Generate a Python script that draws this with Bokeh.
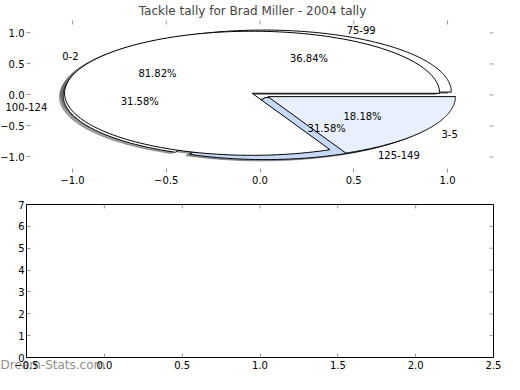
import numpy as np
from bokeh.plotting import figure
from bokeh.models import Range1d, LinearAxis, FixedTicker, ColumnDataSource, BoxAnnotation
from bokeh.layouts import column
from bokeh.core.properties import value
from bokeh.embed import file_html
from bokeh.resources import INLINE

# ---------------- data ----------------
title_text = "Tackle tally for Brad Miller - 2004 tally"

pie1_labels = ["0-2", "3-5"]
pie1_values = [9, 2]
pie1_colors = ["#ffffff", "#e9f0fd"]

pie2_labels = ["75-99", "100-124", "125-149"]
pie2_values = [7, 6, 6]
pie2_colors = ["#ffffff", "#ffffff", "#c6d9f8"]

top_x_ticks = [-1.0, -0.5, 0.0, 0.5, 1.0]
top_x_labels = ["\u22121.0", "\u22120.5", "0.0", "0.5", "1.0"]
top_y_ticks = [-1.0, -0.5, 0.0, 0.5, 1.0]
top_y_labels = ["\u22121.0", "\u22120.5", "0.0", "0.5", "1.0"]
top_xlim = (-1.245, 1.245)
top_ylim = (-1.25, 1.2)

bot_x_ticks = [-0.5, 0.0, 0.5, 1.0, 1.5, 2.0, 2.5]
bot_x_labels = ["\u22120.5", "0.0", "0.5", "1.0", "1.5", "2.0", "2.5"]
bot_y_ticks = [0, 1, 2, 3, 4, 5, 6, 7]
bot_y_labels = ["0", "1", "2", "3", "4", "5", "6", "7"]
bot_xlim = (-0.5, 2.5)
bot_ylim = (0, 7)

watermark = "Dream-Stats.com"

# ---------------- style / layout constants ----------------
FONT = "DejaVu Sans"
EXPLODE = 0.05
SHADOW_OFF = 0.02
TICK_GRAY = "#9a9a9a"
W = 504
H1, H2 = 188, 186
BOX_L, BOX_R = 26, 493          # axes box, pixels inside each figure
TOP_FRAME_T = 17                # title panel height of the top figure
TOP_BOX_T, TOP_BOX_B = 20, 172  # top axes box (figure px)
BOT_BOX_T, BOT_BOX_B = 16, 169  # bottom axes box (figure px)
WM_BELOW = 7                    # watermark centre, px below the bottom box


def padded(lo, hi, box_px, pad_lo, pad_hi):
    s = (hi - lo) / float(box_px)
    return Range1d(lo - pad_lo * s, hi + pad_hi * s)


def shade(hexcol, rho=0.3):
    h = hexcol.lstrip("#")
    r, g, b = (int(h[i:i + 2], 16) for i in (0, 2, 4))
    return "#%02x%02x%02x" % (int(r * rho), int(g * rho), int(b * rho))


def pie_geometry(values, labels, colors, explode=EXPLODE, labeldistance=1.1,
                 pctdistance=0.6, n=160):
    total = float(sum(values))
    theta1 = 0.0
    out = dict(xs=[], ys=[], sxs=[], sys=[], fill=[], sfill=[],
               lx=[], ly=[], lalign=[], lab=[], px=[], py=[], pct=[])
    for v, lab, col in zip(values, labels, colors):
        frac = v / total
        theta2 = theta1 + frac * 2 * np.pi
        tm = 0.5 * (theta1 + theta2)
        cx, cy = explode * np.cos(tm), explode * np.sin(tm)
        t = np.linspace(theta1, theta2, n)
        xs = np.concatenate([[cx], cx + np.cos(t), [cx]])
        ys = np.concatenate([[cy], cy + np.sin(t), [cy]])
        out["xs"].append(list(xs))
        out["ys"].append(list(ys))
        out["sxs"].append(list(xs - SHADOW_OFF))
        out["sys"].append(list(ys - SHADOW_OFF))
        out["fill"].append(col)
        out["sfill"].append(shade(col))
        lx = cx + labeldistance * np.cos(tm)
        ly = cy + labeldistance * np.sin(tm)
        out["lx"].append(lx)
        out["ly"].append(ly)
        out["lalign"].append("left" if lx > 0 else "right")
        out["lab"].append(lab)
        out["px"].append(cx + pctdistance * np.cos(tm))
        out["py"].append(cy + pctdistance * np.sin(tm))
        out["pct"].append("%.2f%%" % (100.0 * frac))
        theta1 = theta2
    return out


def style_axis(ax, ticks, labels, standoff=3):
    ax.ticker = FixedTicker(ticks=ticks)
    ax.major_label_overrides = {t: l for t, l in zip(ticks, labels)}
    ax.axis_line_color = None
    ax.major_tick_in = 4
    ax.major_tick_out = 0
    ax.major_tick_line_color = TICK_GRAY
    ax.major_tick_line_width = 1
    ax.minor_tick_line_color = None
    ax.major_label_text_font = FONT
    ax.major_label_text_font_size = "10px"
    ax.major_label_text_color = "black"
    ax.major_label_standoff = standoff


def make_fig(height, xr, yr, border_top=0):
    p = figure(width=W, height=height, x_range=xr, y_range=yr,
               output_backend="svg", toolbar_location=None,
               x_axis_location=None, y_axis_location=None,
               min_border_left=0, min_border_right=0,
               min_border_top=border_top, min_border_bottom=0)
    p.xgrid.visible = False
    p.ygrid.visible = False
    p.outline_line_color = None
    p.background_fill_color = "white"
    p.border_fill_color = "white"
    return p


def add_axes(p, xlim, ylim, xt, xl, yt, yl):
    xa = LinearAxis(fixed_location=ylim[0])
    style_axis(xa, xt, xl, standoff=3)
    p.add_layout(xa, "below")
    ya = LinearAxis(fixed_location=xlim[0])
    style_axis(ya, yt, yl, standoff=2)
    p.add_layout(ya, "left")
    # inward tick marks on the top and right edges of the axes box
    p.ray(x=xt, y=[ylim[1]] * len(xt), length=4, length_units="screen",
          angle=-np.pi / 2, line_color=TICK_GRAY, line_width=1)
    p.ray(x=[xlim[1]] * len(yt), y=yt, length=4, length_units="screen",
          angle=np.pi, line_color=TICK_GRAY, line_width=1)


# ---------------- top: overlapping pies ----------------
p1 = make_fig(H1,
              padded(top_xlim[0], top_xlim[1], BOX_R - BOX_L, BOX_L, W - BOX_R),
              padded(top_ylim[0], top_ylim[1], TOP_BOX_B - TOP_BOX_T,
                     H1 - TOP_BOX_B, TOP_BOX_T - TOP_FRAME_T),
              border_top=TOP_FRAME_T)
p1.title.text = title_text
p1.title.align = "center"
p1.title.text_font = FONT
p1.title.text_font_size = "12px"
p1.title.text_font_style = "normal"
p1.title.standoff = 0

g2 = pie_geometry(pie2_values, pie2_labels, pie2_colors)
g1 = pie_geometry(pie1_values, pie1_labels, pie1_colors)

# shadows (below all wedges)
for g in (g2, g1):
    src = ColumnDataSource(dict(xs=g["sxs"], ys=g["sys"], c=g["sfill"]))
    p1.patches("xs", "ys", source=src, fill_color="c", fill_alpha=0.5,
               line_color="c", line_alpha=0.5, line_width=1)
# wedges: second pie first, first pie drawn on top
for g in (g2, g1):
    src = ColumnDataSource(dict(xs=g["xs"], ys=g["ys"], c=g["fill"]))
    p1.patches("xs", "ys", source=src, fill_color="c", line_color="black",
               line_width=1)
# texts
for g in (g2, g1):
    src = ColumnDataSource(dict(x=g["lx"], y=g["ly"], t=g["lab"], a=g["lalign"]))
    p1.text("x", "y", text="t", source=src, text_align="a",
            text_baseline="middle", text_font=value(FONT),
            text_font_size="10px", text_color="black")
    src2 = ColumnDataSource(dict(x=g["px"], y=g["py"], t=g["pct"]))
    p1.text("x", "y", text="t", source=src2, text_align="center",
            text_baseline="middle", text_font=value(FONT),
            text_font_size="10px", text_color="black")

add_axes(p1, top_xlim, top_ylim, top_x_ticks, top_x_labels,
         top_y_ticks, top_y_labels)

# ---------------- bottom: empty axes ----------------
xr2 = padded(bot_xlim[0], bot_xlim[1], BOX_R - BOX_L, BOX_L, W - BOX_R)
yr2 = padded(bot_ylim[0], bot_ylim[1], BOT_BOX_B - BOT_BOX_T,
             H2 - BOT_BOX_B, BOT_BOX_T)
p2 = make_fig(H2, xr2, yr2)
p2.add_layout(BoxAnnotation(left=bot_xlim[0], right=bot_xlim[1],
                            bottom=bot_ylim[0], top=bot_ylim[1],
                            fill_color=None, line_color="black",
                            line_width=1, line_alpha=1.0))
add_axes(p2, bot_xlim, bot_ylim, bot_x_ticks, bot_x_labels,
         bot_y_ticks, bot_y_labels)

# watermark, just below the bottom-left corner
px_y = (bot_ylim[1] - bot_ylim[0]) / float(BOT_BOX_B - BOT_BOX_T)
p2.text(x=[xr2.start], y=[bot_ylim[0] - WM_BELOW * px_y], text=[watermark],
        text_align="left", text_baseline="middle", text_font=value(FONT),
        text_font_size="12px", text_color="#8f8f8f")

layout = column(p1, p2, spacing=0)
open("out.html", "w").write(file_html(layout, INLINE))
